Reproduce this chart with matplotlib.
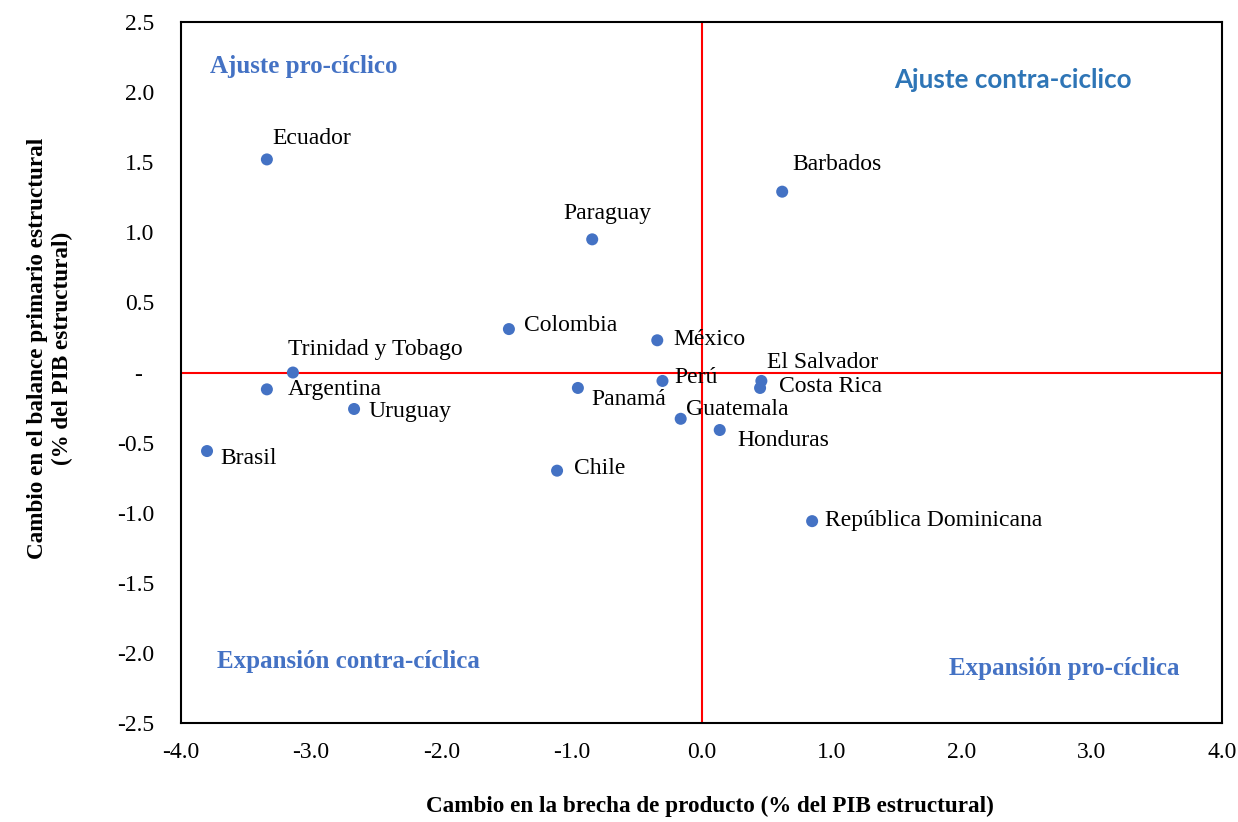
import matplotlib
matplotlib.use("Agg")
import matplotlib.pyplot as plt
from matplotlib.ticker import FuncFormatter

# datos
paises = ["Ecuador", "Barbados", "Paraguay", "Colombia", "México", "Trinidad y Tobago",
          "Argentina", "Uruguay", "Brasil", "Chile", "Panamá", "Perú", "Guatemala",
          "El Salvador", "Costa Rica", "Honduras", "República Dominicana"]
brecha = [-3.34, 0.62, -0.84, -1.48, -0.34, -3.14, -3.34, -2.67, -3.80, -1.11,
          -0.95, -0.30, -0.16, 0.46, 0.45, 0.14, 0.85]
balance = [1.52, 1.29, 0.95, 0.31, 0.23, 0.0, -0.12, -0.26, -0.56, -0.70,
           -0.11, -0.06, -0.33, -0.06, -0.11, -0.41, -1.06]
# desplazamiento de etiquetas (px): dx, dy
offsets = [(5, 21), (10, 27), (-29, 26), (15, 4), (16, 1), (-5, 23), (21, 0), (14, -3),
           (13, -7), (17, 2), (13, -12), (12, 3), (5, 9), (6, 18), (19, 1), (18, -10), (13, 1)]

serif = "Liberation Serif"
azul = "#4472C4"

fig = plt.figure(figsize=(12.38, 8.22), dpi=100)
ax = fig.add_axes([0.1462, 0.1204, 0.8409, 0.8528])

ax.axhline(0, color="#FF0000", lw=1.5, zorder=1)
ax.axvline(0, color="#FF0000", lw=1.5, zorder=1)
ax.scatter(brecha, balance, s=75, color=azul, zorder=3, edgecolors="none")

for p, x, y, (dx, dy) in zip(paises, brecha, balance, offsets):
    ax.annotate(p, (x, y), xytext=(dx * 0.72, dy * 0.72), textcoords="offset points",
                ha="left", va="center", fontsize=17, family=serif, color="#000000")

ax.set_xlim(-4, 4)
ax.set_ylim(-2.5, 2.5)
ax.set_xticks([-4, -3, -2, -1, 0, 1, 2, 3, 4])
ax.set_yticks([-2.5, -2, -1.5, -1, -0.5, 0, 0.5, 1, 1.5, 2, 2.5])
ax.xaxis.set_major_formatter(FuncFormatter(lambda v, pos: f"{v:.1f}"))
ax.yaxis.set_major_formatter(FuncFormatter(lambda v, pos: "-  " if abs(v) < 1e-9 else f"{v:.1f}"))
ax.tick_params(length=0, labelsize=17)
ax.tick_params(axis="x", pad=14)
ax.tick_params(axis="y", pad=19)
for lab in ax.get_xticklabels() + ax.get_yticklabels():
    lab.set_family(serif)
for s in ax.spines.values():
    s.set_linewidth(1.5)
    s.set_color("#000000")

ax.set_xlabel("Cambio en la brecha de producto (% del PIB estructural)", family=serif,
              fontsize=16.7, fontweight="bold", va="center")
ax.xaxis.set_label_coords(0.508, -0.1186)
ax.set_ylabel("Cambio en el balance primario estructural\n(% del PIB estructural)", family=serif,
              fontsize=16.7, fontweight="bold", linespacing=1.25, va="center")
ax.yaxis.set_label_coords(-0.126, 0.534)

# cuadrantes
ax.text(-3.78, 2.18, "Ajuste pro-cíclico", family=serif, fontsize=18, fontweight="bold",
        color=azul, va="center", ha="left")
ax.text(1.48, 2.09, "Ajuste contra-ciclico", family="Lato", fontsize=18.7, fontweight="bold",
        color="#2E75B6", va="center", ha="left")
ax.text(-3.72, -2.06, "Expansión contra-cíclica", family=serif, fontsize=18, fontweight="bold",
        color=azul, va="center", ha="left")
ax.text(1.9, -2.11, "Expansión pro-cíclica", family=serif, fontsize=18, fontweight="bold",
        color=azul, va="center", ha="left")

fig.savefig("out.png", dpi=100, facecolor="white")
